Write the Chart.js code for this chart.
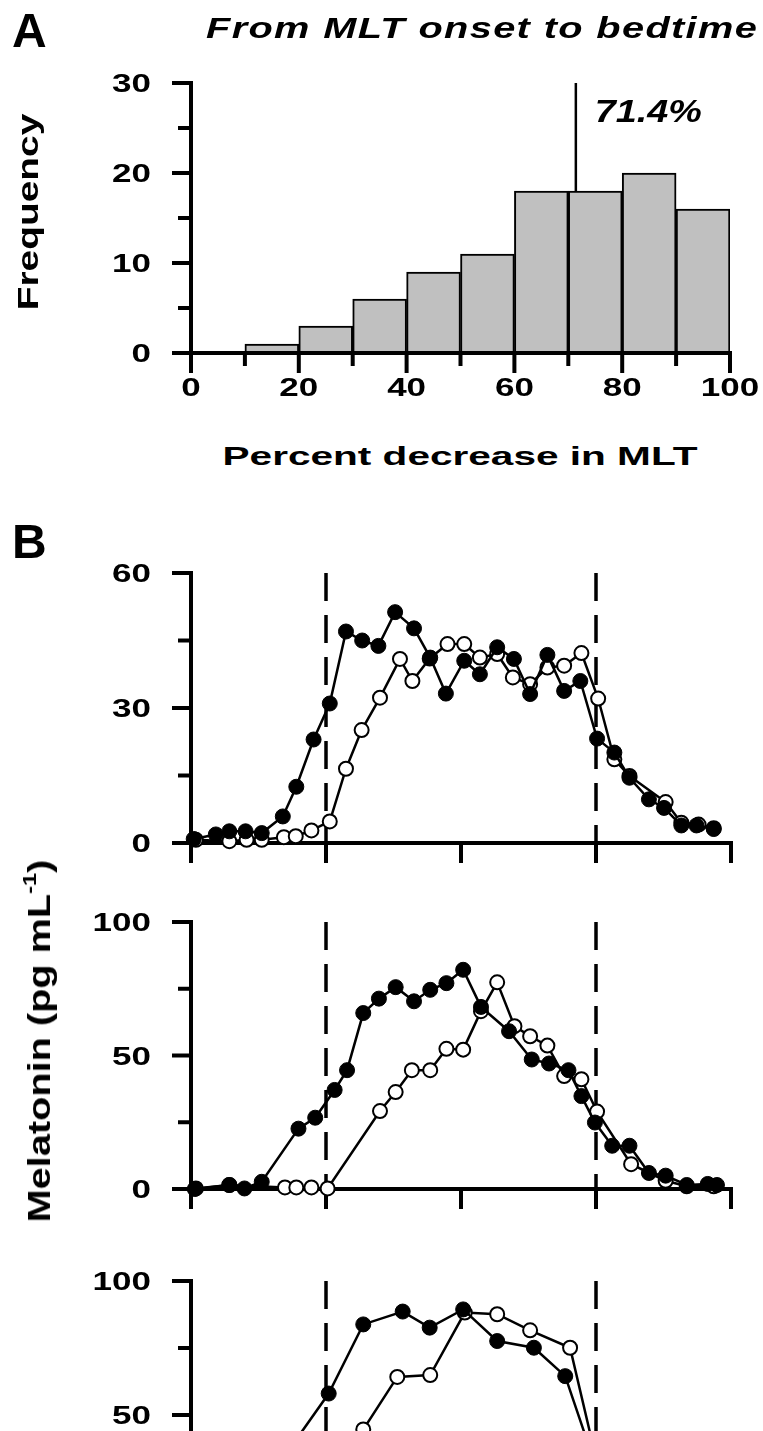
<!DOCTYPE html>
<html>
<head>
<meta charset="utf-8">
<script src="https://cdn.jsdelivr.net/npm/chart.js@4.4.0/dist/chart.umd.min.js"></script>
<style>
html, body { margin: 0; padding: 0; width: 763px; height: 1431px; overflow: hidden; background: #fff; }
body { position: relative; font-family: "Liberation Sans", Arial, sans-serif; font-weight: bold; color: #000; }
canvas { position: absolute; left: 0; }
.lbl { position: absolute; white-space: nowrap; line-height: 1; z-index: 2; }
.sup { font-size: 0.6em; position: relative; top: -0.75em; }
</style>
</head>
<body>
<canvas id="histA" width="763" height="430" style="top:0"></canvas>
<canvas id="plotB1" width="763" height="330" style="top:540px"></canvas>
<canvas id="plotB2" width="763" height="320" style="top:895px"></canvas>
<canvas id="plotB3" width="763" height="330" style="top:1255px"></canvas>

<div class="lbl" style="left:12px; top:7px; font-size:48px;">A</div>
<div class="lbl" style="left:206px; top:14px; font-size:29px; font-style:italic; letter-spacing:1px; transform-origin:0 0; transform:scaleX(1.37);">From MLT onset to bedtime</div>
<div class="lbl" style="left:28px; top:212px; font-size:29px; transform:translate(-50%, -50%) rotate(-90deg) scaleX(1.34);">Frequency</div>
<div class="lbl" style="left:460px; top:443px; font-size:26px; transform:translateX(-50%) scaleX(1.56);">Percent decrease in MLT</div>
<div class="lbl" style="left:12px; top:518px; font-size:48px;">B</div>
<div class="lbl" style="left:39px; top:1041px; font-size:32px; transform:translate(-50%, -50%) rotate(-90deg) scaleX(1.24);">Melatonin (pg mL<span class="sup">-1</span>)</div>

<script>
// Panel A: histogram of percent decrease in MLT
const binCenters = [5, 15, 25, 35, 45, 55, 65, 75, 85, 95];
const binCounts = [0, 1, 3, 6, 9, 11, 18, 18, 20, 16];
const medianDecrease = 71.4;
const medianLabel = '71.4%';
const histXLabels = [0, 20, 40, 60, 80, 100];
const histYLabels = [0, 10, 20, 30];

// Panel B: melatonin profiles, filled vs open symbols
const b1FilledX = [0.5, 4.6, 7.1, 10.1, 13.1, 17.0, 19.5, 22.7, 25.7, 28.7, 31.7, 34.7, 37.8, 41.3, 44.3, 47.2, 50.6, 53.5, 56.7, 59.8, 62.8, 66.0, 69.1, 72.1, 75.2, 78.4, 81.2, 84.8, 87.6, 90.8, 93.6, 96.8];
const b1FilledY = [0.9, 1.9, 2.6, 2.6, 2.2, 5.9, 12.5, 23.0, 31.0, 47.0, 45.0, 43.8, 51.3, 47.7, 41.2, 33.2, 40.5, 37.5, 43.5, 40.9, 33.1, 41.8, 33.8, 36.0, 23.2, 20.1, 14.5, 9.7, 7.8, 3.9, 3.9, 3.1];
const b1OpenX = [0.9, 7.1, 10.3, 13.1, 17.2, 19.4, 22.3, 25.7, 28.7, 31.6, 35.0, 38.7, 41.0, 44.2, 47.5, 50.6, 53.5, 56.7, 59.6, 62.8, 66.0, 69.1, 72.3, 75.4, 78.4, 81.2, 87.9, 90.8, 94.0, 96.8];
const b1OpenY = [0.7, 0.4, 0.7, 0.7, 1.3, 1.5, 2.8, 4.8, 16.5, 25.1, 32.3, 40.9, 36.0, 41.0, 44.2, 44.2, 41.2, 42.0, 36.8, 35.3, 39.0, 39.4, 42.2, 32.1, 18.6, 14.9, 9.1, 4.5, 4.1, 3.3];
const b1YLabels = [0, 30, 60];

const b2FilledX = [0.7, 7.1, 9.9, 13.1, 19.9, 23.0, 26.6, 28.9, 31.9, 34.8, 37.9, 41.3, 44.3, 47.3, 50.4, 53.7, 58.9, 63.1, 66.3, 69.9, 72.3, 74.8, 78.0, 81.2, 84.8, 87.9, 91.8, 95.7, 97.4];
const b2FilledY = [0, 1.5, 0.2, 2.7, 22.6, 26.7, 37.1, 44.5, 65.9, 71.3, 75.6, 70.3, 74.6, 77.1, 82.1, 68.2, 59.1, 48.5, 47.0, 44.5, 34.8, 24.9, 16.2, 16.2, 6.0, 5.0, 1.5, 1.9, 1.5];
const b2OpenX = [0.9, 7.1, 17.4, 19.5, 22.3, 25.3, 35.0, 37.9, 40.9, 44.3, 47.3, 50.4, 53.7, 56.7, 59.9, 62.8, 66.0, 69.1, 72.3, 75.2, 81.5, 87.9, 91.8, 96.8];
const b2OpenY = [0.2, 1.5, 0.6, 0.6, 0.6, 0.2, 29.2, 36.3, 44.5, 44.5, 52.5, 52.2, 66.6, 77.4, 61.0, 57.2, 53.7, 42.3, 41.1, 29.0, 9.3, 3.1, 1.0, 1.0];
const b2YLabels = [0, 50, 100];

const b3FilledX = [19.2, 25.5, 31.9, 39.2, 44.2, 50.4, 56.7, 63.5, 69.3, 75.6];
const b3FilledY = [40, 58.0, 83.8, 88.6, 82.6, 89.4, 77.6, 75.1, 64.5, 27];
const b3OpenX = [25.5, 31.9, 38.2, 44.3, 50.7, 56.7, 62.8, 70.2, 76.5];
const b3OpenY = [8, 44.6, 64.2, 64.9, 88.2, 87.6, 81.6, 75.1, 21];
const b3YLabels = [0, 50, 100];

// x ticks of panel B (no labels shown) and dashed reference lines
const bXTicks = [0, 25, 50, 75, 100];
const refLines = [25, 75];

const FONT = "'Liberation Sans', Arial, sans-serif";
const PAGE_W = 763;

Chart.defaults.font.family = FONT;
Chart.defaults.color = '#000';

const toPoints = (xs, ys) => xs.map((x, i) => ({ x: x, y: ys[i] }));

// the printed figure has horizontally stretched lettering
function wideText(ctx, text, x, y, align, sx) {
    ctx.save();
    ctx.translate(x, y);
    ctx.scale(sx, 1);
    ctx.textAlign = align;
    ctx.textBaseline = 'alphabetic';
    ctx.fillText(text, 0, 0);
    ctx.restore();
}

function drawAxes(chart, opts) {
    const ctx = chart.ctx;
    const area = chart.chartArea;
    const xs = chart.scales.x;
    const ys = chart.scales.y;
    ctx.save();
    ctx.strokeStyle = '#000';
    ctx.fillStyle = '#000';
    ctx.lineWidth = 4;
    ctx.lineCap = 'butt';
    ctx.beginPath();
    ctx.moveTo(area.left, area.top - 2);
    ctx.lineTo(area.left, area.bottom + 2);
    ctx.moveTo(area.left - 2, area.bottom);
    ctx.lineTo(area.right + 2, area.bottom);
    ctx.stroke();

    ys.ticks.forEach(t => {
        const py = ys.getPixelForValue(t.value);
        const len = opts.yMajor.includes(t.value) ? 19 : 13;
        ctx.beginPath();
        ctx.moveTo(area.left + 2, py);
        ctx.lineTo(area.left - len, py);
        ctx.stroke();
    });
    xs.ticks.forEach(t => {
        const px = xs.getPixelForValue(t.value);
        const len = opts.xMajor.includes(t.value) ? 20 : 13;
        ctx.beginPath();
        ctx.moveTo(px, area.bottom - 2);
        ctx.lineTo(px, area.bottom + len);
        ctx.stroke();
    });

    ctx.font = 'bold 25px ' + FONT;
    opts.yLabels.forEach(v => {
        wideText(ctx, String(v), area.left - 40, ys.getPixelForValue(v) + 9, 'right', 1.4);
    });
    (opts.xLabels || []).forEach(v => {
        wideText(ctx, String(v), xs.getPixelForValue(v), area.bottom + 43, 'center', 1.4);
    });

    if (opts.dashed) {
        ctx.lineWidth = 3.5;
        ctx.setLineDash([28, 14]);
        opts.dashed.forEach(v => {
            const px = xs.getPixelForValue(v);
            ctx.beginPath();
            ctx.moveTo(px, area.top);
            ctx.lineTo(px, area.bottom + 20);
            ctx.stroke();
        });
    }
    ctx.restore();
}

// axes, tick marks (short minor ones), labels and dashed lines
const axisPlugin = {
    id: 'axisPlugin',
    beforeDatasetsDraw(chart, args, opts) {
        if (!opts.axesOnTop) drawAxes(chart, opts);
    },
    afterDatasetsDraw(chart, args, opts) {
        if (opts.axesOnTop) drawAxes(chart, opts);
    },
    afterDraw(chart, args, opts) {
        if (!opts.note) return;
        const ctx = chart.ctx;
        ctx.save();
        ctx.font = 'italic bold 32px ' + FONT;
        ctx.fillStyle = '#000';
        const px = chart.scales.x.getPixelForValue(opts.note.x) + 19;
        const py = chart.scales.y.getPixelForValue(opts.note.y) + 39;
        wideText(ctx, opts.note.text, px, py, 'left', 1.18);
        ctx.restore();
    }
};

// place the plot area at page coordinates
function boxLayout(canvasTop, canvasH, area, xH) {
    return {
        padding: {
            left: 0,
            right: PAGE_W - area.right,
            top: area.top - canvasTop,
            bottom: canvasTop + canvasH - area.bottom - xH
        }
    };
}

const hiddenGrid = { display: false };

// Panel A
new Chart(document.getElementById('histA'), {
    type: 'bar',
    data: {
        datasets: [{
            type: 'bar',
            data: toPoints(binCenters, binCounts),
            backgroundColor: '#c0c0c0',
            borderColor: '#000',
            borderWidth: c => (c.raw && c.raw.y > 0 ? 2 : 0),
            barPercentage: 1,
            categoryPercentage: 1,
            order: 1
        }, {
            type: 'line',
            data: [{ x: medianDecrease, y: 0 }, { x: medianDecrease, y: 30 }],
            borderColor: '#000',
            borderWidth: 2.5,
            pointRadius: 0,
            order: 2
        }]
    },
    options: {
        responsive: false,
        animation: false,
        layout: boxLayout(0, 430, { left: 191, right: 730, top: 83, bottom: 353 }, 60),
        plugins: {
            legend: { display: false },
            tooltip: { enabled: false },
            axisPlugin: {
                axesOnTop: true,
                yMajor: histYLabels, xMajor: histXLabels,
                yLabels: histYLabels, xLabels: histXLabels,
                note: { x: medianDecrease, y: 30, text: medianLabel }
            }
        },
        scales: {
            x: {
                type: 'linear', min: 0, max: 100, offset: false,
                border: { display: false }, grid: hiddenGrid,
                ticks: { stepSize: 10, display: false },
                afterFit: s => { s.height = 60; }
            },
            y: {
                min: 0, max: 30,
                border: { display: false }, grid: hiddenGrid,
                ticks: { stepSize: 5, display: false },
                afterFit: s => { s.width = 191; }
            }
        }
    },
    plugins: [axisPlugin]
});

// Panel B
function melatoninPlot(id, canvasTop, canvasH, area, yMax, yStep, yLabels, filled, open) {
    return new Chart(document.getElementById(id), {
        type: 'scatter',
        data: {
            datasets: [{
                data: filled,
                showLine: true,
                borderColor: '#000',
                borderWidth: 2.5,
                pointRadius: 7.5,
                pointBorderWidth: 1,
                pointBackgroundColor: '#000',
                pointBorderColor: '#000',
                clip: false,
                order: 1
            }, {
                data: open,
                showLine: true,
                borderColor: '#000',
                borderWidth: 2.5,
                pointRadius: 7,
                pointBorderWidth: 2,
                pointBackgroundColor: '#fff',
                pointBorderColor: '#000',
                clip: false,
                order: 2
            }]
        },
        options: {
            responsive: false,
            animation: false,
            layout: boxLayout(canvasTop, canvasH, area, 30),
            plugins: {
                legend: { display: false },
                tooltip: { enabled: false },
                axisPlugin: { yMajor: yLabels, xMajor: bXTicks, yLabels: yLabels, dashed: refLines }
            },
            scales: {
                x: {
                    type: 'linear', min: 0, max: 100,
                    border: { display: false }, grid: hiddenGrid,
                    ticks: { stepSize: 25, display: false },
                    afterFit: s => { s.height = 30; }
                },
                y: {
                    min: 0, max: yMax,
                    border: { display: false }, grid: hiddenGrid,
                    ticks: { stepSize: yStep, display: false },
                    afterFit: s => { s.width = 191; }
                }
            }
        },
        plugins: [axisPlugin]
    });
}

melatoninPlot('plotB1', 540, 330, { left: 191, right: 731, top: 573, bottom: 843 }, 60, 15, b1YLabels,
    toPoints(b1FilledX, b1FilledY), toPoints(b1OpenX, b1OpenY));
melatoninPlot('plotB2', 895, 320, { left: 191, right: 731, top: 922, bottom: 1189 }, 100, 25, b2YLabels,
    toPoints(b2FilledX, b2FilledY), toPoints(b2OpenX, b2OpenY));
melatoninPlot('plotB3', 1255, 330, { left: 191, right: 731, top: 1281, bottom: 1549 }, 100, 25, b3YLabels,
    toPoints(b3FilledX, b3FilledY), toPoints(b3OpenX, b3OpenY));
</script>
</body>
</html>
